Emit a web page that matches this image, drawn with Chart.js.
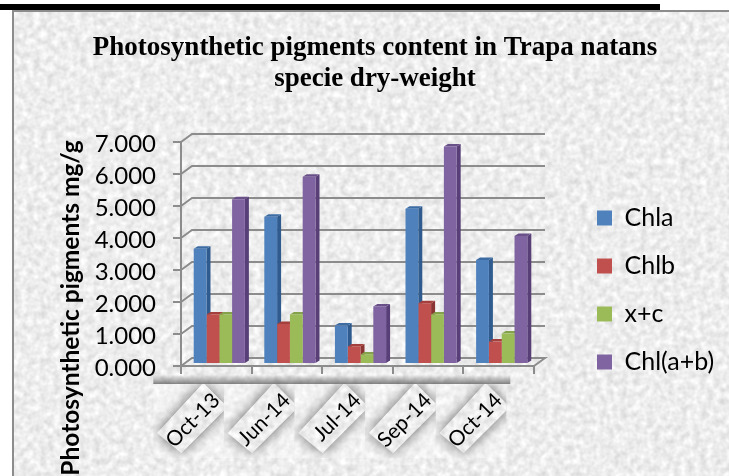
<!DOCTYPE html>
<html>
<head>
<meta charset="utf-8">
<title>Photosynthetic pigments</title>
<script src="https://cdn.jsdelivr.net/npm/chart.js@4"></script>
<style>
    html, body { margin: 0; padding: 0; background: #fff; width: 729px; height: 476px; overflow: hidden; }
    #paper {
        position: absolute; left: 12px; top: 10px; width: 717px; height: 466px;
        border-left: 2px solid #8c8c8c; border-top: 2px solid #8c8c8c; box-sizing: border-box;
        background-image: url("data:image/svg+xml,%3Csvg xmlns='http://www.w3.org/2000/svg' width='717' height='466'%3E%3Cfilter id='n' color-interpolation-filters='sRGB'%3E%3CfeTurbulence type='fractalNoise' baseFrequency='0.15' numOctaves='2' seed='4'/%3E%3CfeColorMatrix values='0.22 0 0 0 0.82 0.22 0 0 0 0.82 0.22 0 0 0 0.82 0 0 0 0 1'/%3E%3C/filter%3E%3Crect width='717' height='466' filter='url(%23n)'/%3E%3C/svg%3E");
    }
    #topbar { position: absolute; left: 0; top: 4px; width: 660px; height: 6px; background: #000; }
    canvas { position: absolute; left: 0; top: 0; }
</style>
</head>
<body>
<div id="paper"></div>
<div id="topbar"></div>
<canvas id="pigmentChart" width="729" height="476"></canvas>
<script>
const months = ["Oct-13", "Jun-14", "Jul-14", "Sep-14", "Oct-14"];
const chla = [3.6, 4.6, 1.2, 4.85, 3.25];
const chlb = [1.55, 1.25, 0.55, 1.9, 0.7];
const xc = [1.55, 1.55, 0.3, 1.55, 0.95];
const chlab = [5.15, 5.85, 1.8, 6.8, 4.0];
const titleLines = ["Photosynthetic pigments content in Trapa natans", "specie dry-weight"];

// front, side, top colours for the fake 3D look
const palette = [
    ["#4F81BD", "#2F5B8E", "#3D6CA3"],
    ["#C0504D", "#8A3533", "#A33F3C"],
    ["#9BBB59", "#6F8A3C", "#84A249"],
    ["#8064A2", "#583F78", "#6A5089"]
];
const axisGrey = "#8C8C8C";
const depthX = 11, depthY = 8;   // wall offset behind the front plane
const barDX = 4, barDY = 2.5;    // bar depth
const shiftX = 3, shiftY = -2;   // bars sit a little inside the floor

const walls3d = {
    id: "walls3d",
    afterLayout(chart) {
        // legend and axis title do not sit where the library would centre them
        chart.legend.left = 574;
        chart.legend.right = 729;
        chart.legend.top += 52;
        chart.legend.bottom += 52;
        const y = chart.scales.y;
        const drawTitle = y.drawTitle;
        y.drawTitle = function () {
            chart.ctx.save();
            chart.ctx.translate(0, 54);
            drawTitle.call(y);
            chart.ctx.restore();
        };
    },
    beforeDraw(chart) {
        const c = chart.ctx, x = chart.scales.x, y = chart.scales.y;
        const area = chart.chartArea;
        c.save();

        // shaded band + tiles under the axis labels
        const band = c.createLinearGradient(0, 375, 0, 384);
        band.addColorStop(0, "rgba(80,80,80,0)");
        band.addColorStop(1, "rgba(80,80,80,0.7)");
        c.fillStyle = band;
        c.fillRect(x.getPixelForTick(0) - 63, 375, 357, 9);
        months.forEach((m, i) => {
            const cx = x.getPixelForTick(i);
            c.save();
            c.beginPath();
            c.rect(cx - 63, 384, 70.6, 74);
            c.clip();
            c.fillStyle = "rgba(255,255,255,0.3)";
            c.fillRect(cx - 63, 384, 70.6, 74);
            const strip = () => {
                c.beginPath();
                c.moveTo(cx - 13, 383);
                c.lineTo(cx + 11, 407);
                c.lineTo(cx - 35, 453);
                c.lineTo(cx - 59, 433);
                c.closePath();
            };
            c.shadowColor = "rgba(40,40,40,0.7)";
            c.shadowBlur = 14;
            c.fillStyle = "#eee";
            strip();
            c.fill();
            c.shadowColor = "transparent";
            c.globalCompositeOperation = "destination-out";
            strip();
            c.fill();
            c.restore();
        });

        // back wall gridlines and their diagonals
        c.strokeStyle = axisGrey;
        c.lineWidth = 2;
        y.ticks.forEach((t) => {
            const py = y.getPixelForValue(t.value);
            c.beginPath();
            c.moveTo(area.left, py);
            c.lineTo(area.left + depthX, py - depthY);
            c.lineTo(area.right + depthX, py - depthY);
            if (t.value === 0) {
                c.lineTo(area.right, py);
            }
            c.stroke();
        });
        c.restore();
    },
    beforeDatasetsDraw(chart) {
        const c = chart.ctx;
        c.save();
        c.translate(shiftX, shiftY);
        chart.data.datasets.forEach((ds, d) => {
            chart.getDatasetMeta(d).data.forEach((bar) => {
                const r = bar.x + bar.width / 2, l = bar.x - bar.width / 2;
                c.fillStyle = palette[d][1];
                c.beginPath();
                c.moveTo(r, bar.base);
                c.lineTo(r + barDX, bar.base - barDY);
                c.lineTo(r + barDX, bar.y - barDY);
                c.lineTo(r, bar.y);
                c.closePath();
                c.fill();
                c.fillStyle = palette[d][2];
                c.beginPath();
                c.moveTo(l, bar.y);
                c.lineTo(l + barDX, bar.y - barDY);
                c.lineTo(r + barDX, bar.y - barDY);
                c.lineTo(r, bar.y);
                c.closePath();
                c.fill();
            });
        });
    },
    afterDatasetsDraw(chart) {
        chart.ctx.restore();
    }
};

new Chart(document.getElementById("pigmentChart"), {
    type: "bar",
    data: {
        labels: months,
        datasets: [
            { label: "Chla", data: chla, backgroundColor: palette[0][0] },
            { label: "Chlb", data: chlb, backgroundColor: palette[1][0] },
            { label: "x+c", data: xc, backgroundColor: palette[2][0] },
            { label: "Chl(a+b)", data: chlab, backgroundColor: palette[3][0] }
        ]
    },
    options: {
        responsive: false,
        animation: false,
        categoryPercentage: 0.725,
        barPercentage: 1,
        layout: { padding: { left: 36, right: 15, top: 0, bottom: 0 } },
        plugins: {
            tooltip: { enabled: false },
            title: {
                display: true,
                text: titleLines,
                color: "#000",
                font: { family: "'Liberation Serif'", size: 27, weight: "bold", lineHeight: 1.148 },
                padding: { top: 33, bottom: 47 }
            },
            legend: {
                position: "right",
                labels: {
                    boxWidth: 15,
                    boxHeight: 15,
                    padding: 23,
                    color: "#000",
                    font: { family: "Lato", size: 25 }
                }
            }
        },
        scales: {
            x: {
                grid: { drawOnChartArea: false, drawTicks: true, tickLength: 8, color: axisGrey, lineWidth: 2, offset: true },
                border: { color: axisGrey, width: 2 },
                ticks: {
                    color: "#000",
                    font: { family: "Lato", size: 21 },
                    minRotation: 45,
                    maxRotation: 45,
                    padding: 14
                },
                afterFit(s) { s.height = 110; }
            },
            y: {
                min: 0,
                max: 7,
                grid: { drawOnChartArea: false, tickLength: 8, color: axisGrey, lineWidth: 2 },
                border: { color: axisGrey, width: 2 },
                ticks: {
                    stepSize: 1,
                    color: "#000",
                    padding: 17,
                    labelOffset: 2,
                    font: { family: "Lato", size: 24 },
                    callback: (v) => v.toFixed(3)
                },
                title: {
                    display: true,
                    text: "Photosynthetic pigments mg/g",
                    color: "#000",
                    font: { family: "Lato", size: 24.5, weight: "bold" },
                    padding: { top: 20, bottom: 0 }
                },
                afterFit(s) { s.width = 145; }
            },
            spacer: {
                type: "linear",
                position: "right",
                grid: { display: false },
                border: { display: false },
                ticks: { display: false },
                afterFit(s) { s.width = 67; }
            }
        }
    },
    plugins: [walls3d]
});
</script>
</body>
</html>
